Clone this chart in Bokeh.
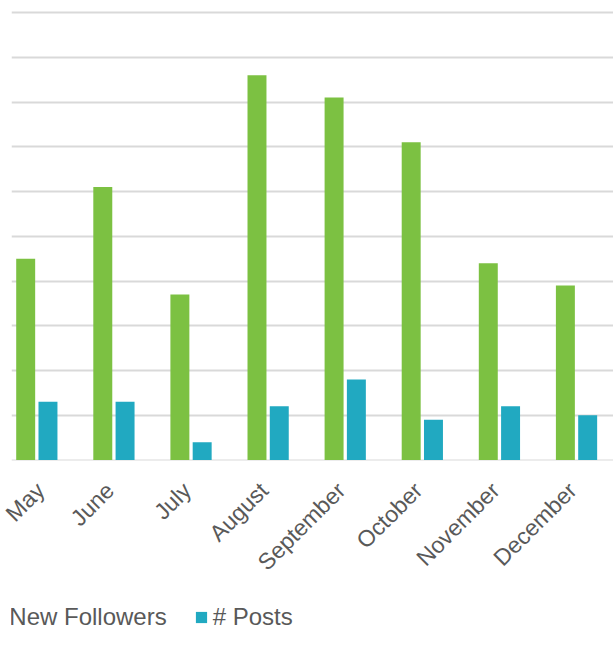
import math
from bokeh.plotting import figure
from bokeh.layouts import column
from bokeh.models import ColumnDataSource, Range1d, FixedTicker, Legend, LegendItem, LinearAxis
from bokeh.transform import dodge
from bokeh.embed import file_html
from bokeh.resources import INLINE

months = ["May", "June", "July", "August", "September", "October", "November", "December"]
new_followers = [45, 61, 37, 86, 81, 71, 44, 39]
posts = [13, 13, 4, 12, 18, 9, 12, 10]
grid_ticks = [0, 10, 20, 30, 40, 50, 60, 70, 80, 90, 100]
series_names = ["New Followers", "# Posts"]

GREEN = "#7cc142"
BLUE = "#21a9c1"
TEXT = "#595959"
GRID = "#d9d9d9"

idx = list(range(len(months)))
src = ColumnDataSource(dict(x=idx, nf=new_followers, posts=posts))

X0, X1 = -0.328, 7.48
p = figure(width=613, height=600, output_backend="svg", toolbar_location=None,
           x_range=Range1d(X0, X1), y_range=Range1d(-0.1, 100.9),
           x_axis_location=None, y_axis_location=None,
           min_border_left=11, min_border_right=0, min_border_top=8, min_border_bottom=140)
p.outline_line_color = None
p.background_fill_color = "white"
p.border_fill_color = "white"

g = p.vbar(x=dodge("x", -0.144, range=p.x_range), top="nf", width=0.246, source=src,
           fill_color=GREEN, line_color=None)
b = p.vbar(x=dodge("x", 0.145, range=p.x_range), top="posts", width=0.246, source=src,
           fill_color=BLUE, line_color=None)

# category axis (labels nudged slightly left, as in the reference)
shift = 4 / 77.1
p.extra_x_ranges = {"lbl": Range1d(X0 + shift, X1 + shift)}
xa = LinearAxis(x_range_name="lbl")
xa.ticker = FixedTicker(ticks=idx)
xa.major_label_overrides = {i: m for i, m in zip(idx, months)}
xa.major_label_orientation = math.pi / 4
xa.major_label_text_font = "Liberation Sans"
xa.major_label_text_font_size = "23px"
xa.major_label_text_color = TEXT
xa.major_label_standoff = 20
xa.axis_line_color = None
xa.major_tick_line_color = None
xa.minor_tick_line_color = None
p.add_layout(xa, "below")

p.ygrid.ticker = FixedTicker(ticks=grid_ticks)
p.ygrid.grid_line_color = GRID
p.ygrid.grid_line_width = 2
p.xgrid.visible = False

# legend strip (its renderers reuse the data, but lie outside this strip's ranges)
lf = figure(width=613, height=50, output_backend="svg", toolbar_location=None,
            x_range=Range1d(-100, -99), y_range=Range1d(-100, -99),
            x_axis_location=None, y_axis_location=None,
            min_border_left=5, min_border_right=0, min_border_top=0, min_border_bottom=0)
lf.outline_line_color = None
lf.grid.visible = False
lsrc = ColumnDataSource(dict(x=idx, nf=new_followers, posts=posts))
lg = lf.vbar(x="x", top="nf", width=0.2, source=lsrc, fill_color=GREEN, line_color=None)
lb = lf.vbar(x="x", top="posts", width=0.2, source=lsrc, fill_color=BLUE, line_color=None)
legend = Legend(items=[LegendItem(label=series_names[0], renderers=[lg]),
                       LegendItem(label=series_names[1], renderers=[lb])],
                orientation="horizontal", location=(-20.7, 19),
                padding=0, margin=0, spacing=27, label_standoff=5,
                glyph_width=14, glyph_height=14, label_height=24,
                label_text_font="Liberation Sans", label_text_font_size="24px",
                label_text_color=TEXT, border_line_color=None,
                background_fill_alpha=0)
lf.add_layout(legend, "center")

layout = column(p, lf, spacing=0)
open("out.html", "w").write(file_html(layout, INLINE))
